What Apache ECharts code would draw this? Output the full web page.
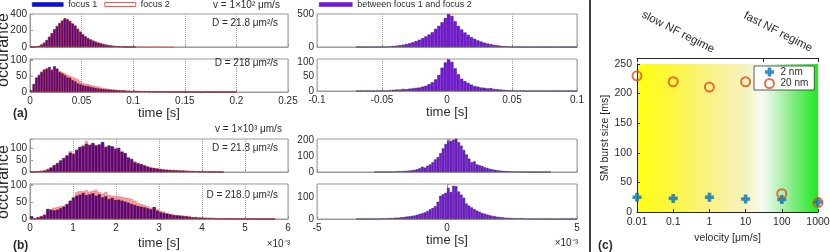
<!DOCTYPE html>
<html><head><meta charset="utf-8">
<script src="https://cdn.jsdelivr.net/npm/echarts@6.0.0/dist/echarts.min.js"></script>
<style>html,body{margin:0;padding:0;background:#fff}#c{width:830px;height:252px}</style>
</head><body><div id="c"></div>
<script>
// ---------- DATA ----------
// (a) v = 1e2 um/s, histograms, bin width 0.0025 s
const aBinStart = 0, aBinWidth = 0.0025;
const aTopFocus1 = [0,1,5,14,30,52,85,125,168,215,255,290,318,348,335,312,283,258,218,182,152,128,106,90,76,64,52,43,35,28,22,18,14,11,8,6,4,3,2,2,1];
const aTopFocus2 = [0,1,4,12,27,50,82,122,165,210,252,288,322,340,338,318,290,262,225,190,158,132,110,93,78,66,55,45,37,30,24,19,15,12,9,7,5,4,3,3,2,2,2,1,1,1,1,1,1,1,1,0,1,0,1,0];
const aBotFocus1 = [5,25,45,52,62,70,72,78,68,80,73,62,58,52,46,44,37,33,27,24,21,19,18,16,14,12,11,10,9,8,8,7,7,6,5,5,5,4,4,3,4,3,3,2,3,2,2,1,2,1,1,1,2,1,0,1,1,0,1,0,0,1,0,0,1,0,0,0,1,0,0,0,0,1,0,0,0,0,1,0];
const aBotFocus2 = [3,22,42,55,64,68,75,74,72,76,70,66,62,58,54,50,47,43,40,33,28,26,24,22,20,18,17,14,12,11,9,8,7,7,6,5,5,4,4,3,3,3,2,3,2,2,1,2,1,1,1,1,1,1,0,1,0,1,0,0,1,0,0,0,1,0,1,0,0,0,0,0,1,0,0,0,1,0,0,0];
const aDiffStart = -0.07, aDiffWidth = 0.0025;
const aTopBetween = [1,0,1,1,0,1,2,2,4,6,10,15,20,26,35,45,58,72,90,110,135,160,190,225,275,320,375,440,495,470,390,320,265,220,185,150,125,100,82,66,52,42,32,25,18,13,9,6,4,3,2,1,1,1,0,1,1,0,1,0,0,1,0,1,0,0,1,0];
const aBotBetween = [0,0,0,1,0,0,1,1,2,1,3,4,5,5,7,6,8,9,11,12,15,18,24,30,40,55,80,98,108,100,78,58,42,34,28,22,17,15,12,11,9,10,7,6,5,4,3,2,2,1,2,1,0,1,0,0,1,0,0,0,1,0,0,0,0,1,0,0];
// (b) v = 1e3 um/s, times in units of 1e-3 s
const bBinStart = 0, bBinWidth = 0.075;
const bTopFocus1 = [2,1,3,4,6,10,18,28,37,48,58,68,80,74,92,104,107,117,113,120,110,114,124,103,110,106,96,100,84,78,60,54,40,36,32,27,22,18,16,14,12,10,9,8,8,7,6,6,5,4,4,3,3,2,2,1,1,1,1,0];
const bTopFocus2 = [1,2,2,5,7,14,20,26,35,45,55,70,86,78,88,100,112,128,110,116,112,110,118,106,104,100,98,94,86,75,55,51,44,38,33,28,24,19,17,15,13,11,10,9,8,7,7,6,5,4,4,3,3,2,2,2,1,1,1,1];
const bBotFocus1 = [8,2,5,8,12,30,28,26,28,32,37,45,55,64,70,73,78,72,74,77,70,74,65,68,60,63,57,58,55,52,49,45,42,39,37,35,32,29,36,25,20,18,16,14,12,11,10,9,8,7,5,5,4,4,3,3,3,2,2,2,2,1,2,1,1,1,1,0,1,1,0,1,0,1,0,0];
const bBotFocus2 = [3,3,6,9,14,26,30,34,36,38,40,44,52,66,80,84,83,86,82,85,87,80,76,81,72,70,68,68,67,64,63,60,55,48,45,42,38,34,32,30,24,22,18,15,13,12,11,10,8,7,6,6,5,4,4,3,3,3,2,2,2,2,1,1,1,1,1,1,1,0,1,0,1,0,1,0];
const bTopDiffStart = -2.8, bBotDiffStart = -3.5, bDiffWidth = 0.1;
const bTopBetween = [1,0,1,0,1,1,2,2,3,4,5,6,7,9,11,14,18,24,34,28,40,48,62,80,95,120,150,178,196,198,205,212,190,168,140,112,85,62,68,48,44,38,30,26,20,17,14,11,9,7,6,5,4,3,3,2,2,1,1,1,0,0,0,0,0,0,1,0];
const bBotBetween = [0,1,0,1,0,1,1,2,1,2,3,3,4,4,5,6,6,8,9,11,12,14,16,19,23,26,30,36,44,50,58,78,105,112,118,140,122,150,148,124,110,96,70,60,52,45,38,33,27,24,20,17,14,12,10,9,7,6,5,5,4,3,3,3,2,2,1,1,1,1,0,1,0,1,0,0,1,0,0,0,1,0,0,0,0];
// (c) burst size vs velocity
const velocity = [0.01, 0.1, 1, 10, 100, 1000];
const burst2nm = [25, 23, 25, 22, 21, 17];
const burst20nm = [230, 220, 211, 220, 31, 16];
const regimeBoundary = 30;
const regimeTicks = [0.01, regimeBoundary, 1000];

// ---------- HELPERS ----------
const toPairs = (counts, start, w) => counts.map((c, i) => [start + (i + 0.5) * w, c]);
const pairs = (xs, ys) => xs.map((x, i) => [x, ys[i]]);
const FONT = 'Liberation Sans';
const TXT = '#2b2b2b';
const AX = '#9a9a9a';

const grids = [
  {left:30, top:14, width:258, height:33},
  {left:30, top:59, width:258, height:33},
  {left:317, top:14, width:260, height:33},
  {left:317, top:59, width:260, height:32},
  {left:30, top:139, width:258, height:33},
  {left:30, top:184, width:258, height:35},
  {left:317, top:139, width:260, height:33},
  {left:317, top:184, width:260, height:35}
].map(g => Object.assign({show:true, borderColor:AX, borderWidth:1, backgroundColor:'transparent', outerBoundsMode:'none', containLabel:false}, g));
grids.push({left:637, top:64, width:181, height:148, show:true, borderWidth:0, outerBoundsMode:'none', containLabel:false,
  backgroundColor:{type:'linear', x:0, y:0, x2:1, y2:0, colorStops:[
    {offset:0, color:'#ffff10'}, {offset:0.2, color:'#fdf742'}, {offset:0.4, color:'#f9f283'},
    {offset:0.6, color:'#f6f3bf'}, {offset:0.69, color:'#f6faf0'}, {offset:0.73, color:'#dff8df'},
    {offset:0.85, color:'#8aec8a'}, {offset:1, color:'#1eea1e'}]}});

function xAx(gi, min, max, interval, showLabel, nameGap) {
  return {type:'value', gridIndex:gi, min, max, interval,
    axisLine:{show:true, lineStyle:{color:AX, width:1}},
    axisTick:{show:true, inside:true, length:3, lineStyle:{color:AX}},
    axisLabel:{show:showLabel, color:TXT, fontFamily:FONT, fontSize:10, margin:4},
    splitLine:{show:true, lineStyle:{color:'#a8a8a8', type:'dotted', width:1}},
    name: showLabel ? 'time [s]' : '', nameLocation:'middle', nameGap: nameGap || 0,
    nameTextStyle:{color:TXT, fontFamily:FONT, fontSize:13}};
}
function yAx(gi, max, interval, labelStep) {
  return {type:'value', gridIndex:gi, min:0, max, interval,
    axisLine:{show:true, lineStyle:{color:AX, width:1}},
    axisTick:{show:true, inside:true, length:3, lineStyle:{color:AX}},
    axisLabel:{color:TXT, fontFamily:FONT, fontSize:10, margin:3,
      formatter: v => (Math.abs(v % labelStep) < 1e-9 ? String(v) : '')},
    splitLine:{show:false}};
}

const xAxes = [
  xAx(0, 0, 0.25, 0.05, false), xAx(1, 0, 0.25, 0.05, true, 14),
  xAx(2, -0.1, 0.1, 0.05, false), xAx(3, -0.1, 0.1, 0.05, true, 15),
  xAx(4, 0, 6, 1, false), xAx(5, 0, 6, 1, true, 18),
  xAx(6, -5, 5, 5, false), xAx(7, -5, 5, 5, true, 15),
  {type:'log', gridIndex:8, min:0.01, max:1000, logBase:10,
    axisLine:{show:true, lineStyle:{color:'#262626'}},
    axisTick:{show:true, inside:true, length:3, lineStyle:{color:'#262626'}},
    axisLabel:{color:TXT, fontFamily:FONT, fontSize:10.5, margin:5, formatter: v => String(+Number(v).toPrecision(6))},
    splitLine:{show:false}, minorTick:{show:false},
    name:'velocity [\u03bcm/s]', nameLocation:'middle', nameGap:21,
    nameTextStyle:{color:TXT, fontFamily:FONT, fontSize:10.5}},
  {type:'log', gridIndex:8, min:0.01, max:1000, logBase:10, position:'top', offset:6,
    axisLine:{show:true, lineStyle:{color:'#262626', width:1}},
    axisTick:{show:true, inside:true, length:4, customValues: regimeTicks, lineStyle:{color:'#262626'}},
    axisLabel:{show:false}, splitLine:{show:false}, minorTick:{show:false}}
];
const yAxes = [
  yAx(0, 400, 200, 200), yAx(1, 103, 50, 50),
  yAx(2, 500, 250, 500), yAx(3, 110, 50, 50),
  yAx(4, 137, 50, 50), yAx(5, 105, 50, 50),
  yAx(6, 210, 100, 100), yAx(7, 158, 100, 100),
  {type:'value', gridIndex:8, min:0, max:250, interval:50,
    axisLine:{show:true, lineStyle:{color:'#262626'}},
    axisTick:{show:true, inside:true, length:3, lineStyle:{color:'#262626'}},
    axisLabel:{color:TXT, fontFamily:FONT, fontSize:10.5, margin:5},
    splitLine:{show:false},
    name:'SM burst size [ms]', nameLocation:'middle', nameGap:26,
    nameTextStyle:{color:TXT, fontFamily:FONT, fontSize:10.5}}
];

const BLUE = {color:'#0808f0', borderColor:'#0a0a30', borderWidth:0.6};
const RED = {color:'rgba(200,0,10,0.32)', borderColor:'rgba(255,60,60,0.75)', borderWidth:0.5};
const PURPLE = {color:'#7d0ff0', borderColor:'#3a2a55', borderWidth:0.5};
function hist(name, ai, data, style, bw) {
  return {type:'bar', name, xAxisIndex:ai, yAxisIndex:ai, data, barWidth:bw, barGap:'-100%',
    itemStyle:style, silent:true, animation:false};
}
const bwA = 258 * aBinWidth / 0.25, bwAR = 260 * aDiffWidth / 0.2;
const bwB = 258 * bBinWidth / 6, bwBR = 260 * bDiffWidth / 10;

const series = [
  hist('focus 1', 0, toPairs(aTopFocus1, aBinStart, aBinWidth), BLUE, bwA),
  hist('focus 2', 0, toPairs(aTopFocus2, aBinStart, aBinWidth), RED, bwA),
  hist('focus 1', 1, toPairs(aBotFocus1, aBinStart, aBinWidth), BLUE, bwA),
  hist('focus 2', 1, toPairs(aBotFocus2, aBinStart, aBinWidth), RED, bwA),
  hist('between focus 1 and focus 2', 2, toPairs(aTopBetween, aDiffStart, aDiffWidth), PURPLE, bwAR),
  hist('between focus 1 and focus 2', 3, toPairs(aBotBetween, aDiffStart, aDiffWidth), PURPLE, bwAR),
  hist('focus 1', 4, toPairs(bTopFocus1, bBinStart, bBinWidth), BLUE, bwB),
  hist('focus 2', 4, toPairs(bTopFocus2, bBinStart, bBinWidth), RED, bwB),
  hist('focus 1', 5, toPairs(bBotFocus1, bBinStart, bBinWidth), BLUE, bwB),
  hist('focus 2', 5, toPairs(bBotFocus2, bBinStart, bBinWidth), RED, bwB),
  hist('between focus 1 and focus 2', 6, toPairs(bTopBetween, bTopDiffStart, bDiffWidth), PURPLE, bwBR),
  hist('between focus 1 and focus 2', 7, toPairs(bBotBetween, bBotDiffStart, bDiffWidth), PURPLE, bwBR),
  {type:'scatter', name:'2 nm', xAxisIndex:8, yAxisIndex:8, data:pairs(velocity, burst2nm),
    symbol:'path://M3,0H7V3H10V7H7V10H3V7H0V3H3Z', symbolSize:9, itemStyle:{color:'#0072bd'}, silent:true},
  {type:'scatter', name:'20 nm', xAxisIndex:8, yAxisIndex:8, data:pairs(velocity, burst20nm),
    symbol:'circle', symbolSize:9, itemStyle:{color:'transparent', borderColor:'#d95319', borderWidth:2}, silent:true}
];

const legTxt = {color:TXT, fontFamily:FONT, fontSize:9};
const legends = [
  {left:32, top:0, padding:0, itemGap:7, itemWidth:31, itemHeight:4, icon:'rect', selectedMode:false, textStyle:legTxt,
    data:[{name:'focus 1', itemStyle:{color:'#0a0af5', borderColor:'#101030', borderWidth:0.5}},
          {name:'focus 2', itemStyle:{color:'#ffffff', borderColor:'#ff5050', borderWidth:1}}]},
  {left:319, top:0, padding:0, itemWidth:33, itemHeight:4, icon:'rect', selectedMode:false, textStyle:legTxt,
    data:[{name:'between focus 1 and focus 2', itemStyle:{color:'#7d0ff0', borderColor:'#3a2a55', borderWidth:0.5}}]},
  {left:754, top:66, orient:'vertical', padding:[1,6,1,10], itemGap:1, itemWidth:12, itemHeight:9, selectedMode:false,
    backgroundColor:'#ffffff', borderColor:'#333', borderWidth:0.8,
    textStyle:{color:TXT, fontFamily:FONT, fontSize:10}, data:['2 nm', '20 nm']}
];

function txt(x, y, s, opt) {
  opt = opt || {};
  return {type:'text', x, y, rotation:opt.rot || 0, silent:true,
    style:{text:s, fill:TXT, font:(opt.bold ? 'bold ' : '') + (opt.size || 10) + 'px "' + FONT + '"',
      align:opt.align || 'left', verticalAlign:'middle'}};
}
const graphic = [
  {type:'line', silent:true, shape:{x1:590, y1:0, x2:590, y2:252}, style:{stroke:'#000', lineWidth:1.5}},
  txt(213, 5, 'v = 1\u00d710\u00b2 \u03bcm/s'),
  txt(278, 23, 'D = 21.8 \u03bcm\u00b2/s', {align:'right'}),
  txt(278, 63, 'D = 218 \u03bcm\u00b2/s', {align:'right'}),
  txt(215, 129, 'v = 1\u00d710\u00b3 \u03bcm/s'),
  txt(278, 148, 'D = 21.8 \u03bcm\u00b2/s', {align:'right'}),
  txt(278, 195, 'D = 218.0 \u03bcm\u00b2/s', {align:'right'}),
  txt(4, 50, 'occurance', {rot:Math.PI/2, align:'center', size:16}),
  txt(4, 182, 'occurance', {rot:Math.PI/2, align:'center', size:16}),
  txt(13, 114, '(a)', {bold:true, size:12}),
  txt(13, 246, '(b)', {bold:true, size:12}),
  txt(598, 246, '(c)', {bold:true, size:12}),
  txt(290, 244, '\u00d710\u207b\u00b3', {align:'right', size:10}),
  txt(578, 243, '\u00d710\u207b\u00b3', {align:'right', size:10}),
  txt(678, 32, 'slow NF regime', {rot:-0.47, align:'center', size:11.5}),
  txt(778, 32, 'fast NF regime', {rot:-0.47, align:'center', size:11.5})
];

const chart = echarts.init(document.getElementById('c'), null, {renderer:'canvas'});
chart.setOption({
  animation:false, backgroundColor:'#ffffff',
  grid:grids, xAxis:xAxes, yAxis:yAxes, series, legend:legends, graphic
});
</script></body></html>
